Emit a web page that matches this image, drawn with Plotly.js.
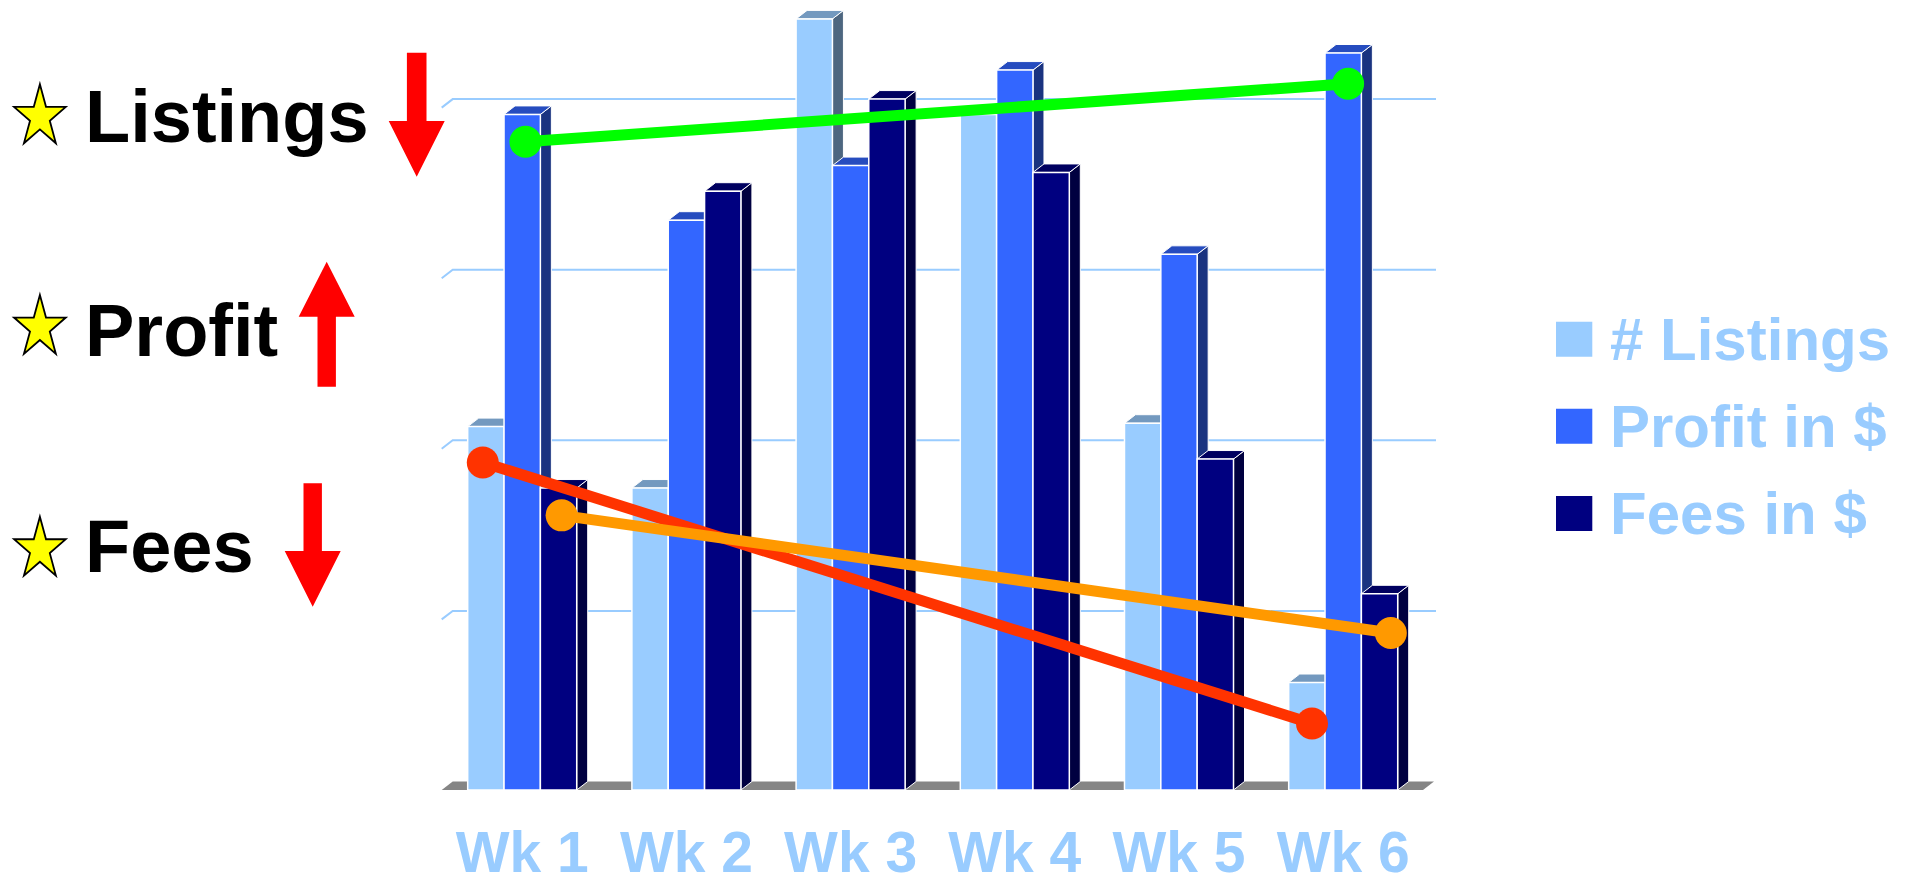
<!DOCTYPE html>
<html><head><meta charset="utf-8">
<script src="https://cdn.plot.ly/plotly-3.0.1.min.js"></script>
<style>html,body{margin:0;padding:0;background:#fff;overflow:hidden;} #chart{width:1913px;height:880px;}</style>
</head><body><div id="chart"></div>
<script>
// ---------------- data ----------------
const weeks = ["Wk 1", "Wk 2", "Wk 3", "Wk 4", "Wk 5", "Wk 6"];
const listings = [21.3, 17.7, 45.2, 39.6, 21.5, 6.3];
const profit   = [39.6, 33.4, 36.6, 42.2, 31.4, 43.2];
const fees     = [17.7, 35.1, 40.5, 36.2, 19.4, 11.5];
const seriesNames = ["# Listings", "Profit in $", "Fees in $"];
const gridValues = [10, 20, 30, 40];
// hand-drawn trend lines (x in week-index units, y in chart units)
const trendListingsX = [-0.24, 4.81], trendListingsY = [19.2, 3.9];
const trendProfitX   = [0.02, 5.03],  trendProfitY   = [38.0, 41.4];
const trendFeesX     = [0.24, 5.29],  trendFeesY     = [16.1, 9.2];
const kpiLabels = ["Listings", "Profit", "Fees"];
const kpiDirections = ["down", "up", "down"];

// ---------------- style / layout constants ----------------
const W = 1913, H = 880, MB = 90, PH = H - MB;
const PXU = 17.06;               // pixels per y unit
const XPX0 = 522.2, XPXU = 164.2; // pixel of x=0, pixels per x unit
const DY = 8.5 / PXU, DX = 11 / XPXU; // 3D depth offsets
const BARGAP = 0.336;
const frontCol = ["#99CCFF", "#3366FF", "#000080"];
const topCol   = ["#7399BF", "#264CBF", "#000060"];
const sideCol  = ["#4D6680", "#1A3380", "#000040"];
const FONT = "Liberation Sans, Arial, Helvetica, sans-serif";
const px2x = p => (p - XPX0) / XPXU;
const GX0 = px2x(441.7), GX1 = px2x(1436), FX1 = px2x(1423);
const paperX = p => p / W;
const paperY = p => (PH - p) / PH;

const series = [listings, profit, fees];
const idx = weeks.map((_, i) => i);
const gw = 1 - BARGAP, bw = gw / 3;

// ---------- 3D faces (side + top) on the back-wall axis ----------
const faceTraces = [];
idx.forEach(i => {
  series.forEach((vals, k) => {
    const v = vals[i];
    const xl = i - gw / 2 + k * bw, xr = xl + bw;
    faceTraces.push({
      type: 'scatter', mode: 'lines', xaxis: 'x', yaxis: 'y',
      x: [xr, xr + DX, xr + DX, xr, xr], y: [v - DY, v, 0, -DY, v - DY],
      fill: 'toself', fillcolor: sideCol[k], line: {color: '#FFFFFF', width: 1},
      hoverinfo: 'skip', showlegend: false
    });
    faceTraces.push({
      type: 'scatter', mode: 'lines', xaxis: 'x', yaxis: 'y',
      x: [xl, xr, xr + DX, xl + DX, xl], y: [v - DY, v - DY, v, v, v - DY],
      fill: 'toself', fillcolor: topCol[k], line: {color: '#FFFFFF', width: 1},
      hoverinfo: 'skip', showlegend: false
    });
  });
});

// ---------- front faces: real bars on the front axis ----------
const barTraces = series.map((vals, k) => ({
  type: 'bar', name: seriesNames[k], x: idx, y: vals, xaxis: 'x', yaxis: 'y2',
  marker: {color: frontCol[k], line: {color: '#FFFFFF', width: 1.5}},
  showlegend: false
}));

// ---------- trend lines ----------
const trend = (x, y, c, n) => ({
  type: 'scatter', mode: 'lines+markers', name: n, x: x, y: y, xaxis: 'x', yaxis: 'y2',
  line: {color: c, width: 11}, marker: {color: c, size: 32}, showlegend: false, cliponaxis: false
});
const trendTraces = [
  trend(trendProfitX, trendProfitY, '#00FF00', 'Profit trend'),
  trend(trendListingsX, trendListingsY, '#FF3300', 'Listings trend'),
  trend(trendFeesX, trendFeesY, '#FF9900', 'Fees trend')
];

// ---------- shapes ----------
const shapes = [];
// floor
shapes.push({type: 'path', xref: 'x', yref: 'y', layer: 'below',
  path: `M${GX0},${-DY} L${FX1},${-DY} L${FX1 + DX},0 L${GX0 + DX},0 Z`,
  fillcolor: '#858585', line: {width: 0}});
// back-wall gridlines with left-wall slant
gridValues.forEach(v => {
  shapes.push({type: 'path', xref: 'x', yref: 'y', layer: 'below',
    path: `M${GX0},${v - DY} L${GX0 + DX},${v} L${GX1},${v}`,
    line: {color: '#99CCFF', width: 2}});
});
// stars
function starPath(cx, cy, rx, ry) {
  let d = '';
  for (let j = 0; j < 10; j++) {
    const a = -Math.PI / 2 + j * Math.PI / 5, r = j % 2 === 0 ? 1 : 0.382;
    const X = paperX(cx + rx * r * Math.cos(a)), Y = paperY(cy + ry * r * Math.sin(a));
    d += (j === 0 ? 'M' : 'L') + X + ',' + Y + ' ';
  }
  return d + 'Z';
}
const kpiCenters = [116.3, 330.3, 546.7];
const starCenters = [116.9, 327.6, 549.3];
starCenters.forEach(cy => shapes.push({type: 'path', xref: 'paper', yref: 'paper',
  path: starPath(39.9, cy, 27.2, 32.6), fillcolor: '#FFFF00', line: {color: '#000000', width: 1.8}}));
// arrows
function arrowPath(tipX, tipY, headHalf, headLen, shaftHalf, totalLen, dir) {
  const hb = dir === 'down' ? tipY - headLen : tipY + headLen;
  const tail = dir === 'down' ? tipY - totalLen : tipY + totalLen;
  const P = [[tipX, tipY], [tipX + headHalf, hb], [tipX + shaftHalf, hb], [tipX + shaftHalf, tail],
             [tipX - shaftHalf, tail], [tipX - shaftHalf, hb], [tipX - headHalf, hb]];
  return P.map((p, j) => (j === 0 ? 'M' : 'L') + paperX(p[0]) + ',' + paperY(p[1])).join(' ') + ' Z';
}
const arrowSpecs = [
  {tipX: 416.7, tipY: 176.7, headHalf: 28, headLen: 55.7, shaftHalf: 9.8, len: 124},
  {tipX: 326.7, tipY: 261.7, headHalf: 28, headLen: 55, shaftHalf: 9.2, len: 125},
  {tipX: 312.7, tipY: 606.7, headHalf: 28, headLen: 55.7, shaftHalf: 9.2, len: 123.4}
];
arrowSpecs.forEach((a, j) => shapes.push({type: 'path', xref: 'paper', yref: 'paper',
  path: arrowPath(a.tipX, a.tipY, a.headHalf, a.headLen, a.shaftHalf, a.len, kpiDirections[j]),
  fillcolor: '#FF0000', line: {width: 0}}));
// legend squares
const legendRows = [339.3, 426.3, 513.5];
legendRows.forEach((cy, k) => shapes.push({type: 'rect', xref: 'paper', yref: 'paper',
  x0: paperX(1556), x1: paperX(1592.3), y0: paperY(cy - 17.5), y1: paperY(cy + 17.5),
  fillcolor: frontCol[k], line: {width: 0}}));

// ---------- annotations ----------
const annotations = [];
kpiLabels.forEach((t, j) => annotations.push({xref: 'paper', yref: 'paper', x: paperX(83), y: paperY(kpiCenters[j]),
  xanchor: 'left', yanchor: 'middle', showarrow: false, text: t,
  font: {family: FONT, size: 74, color: '#000000', weight: 'bold'}}));
seriesNames.forEach((t, k) => annotations.push({xref: 'paper', yref: 'paper', x: paperX(1607.5), y: paperY(legendRows[k]),
  xanchor: 'left', yanchor: 'middle', showarrow: false, text: t,
  font: {family: FONT, size: 60, color: '#99CCFF', weight: 'bold'}}));

const layout = {
  width: W, height: H, margin: {l: 0, r: 0, t: 0, b: MB, pad: 0},
  paper_bgcolor: '#FFFFFF', plot_bgcolor: '#FFFFFF',
  barmode: 'group', bargap: BARGAP, bargroupgap: 0, showlegend: false,
  xaxis: {domain: [440 / W, 1440 / W], range: [px2x(440), px2x(1440)], tickmode: 'array',
    tickvals: idx, ticktext: weeks, showgrid: false, zeroline: false, showline: false, ticks: '',
    ticklabelstandoff: 24, tickfont: {family: FONT, size: 57, color: '#99CCFF', weight: 'bold'}, fixedrange: true},
  yaxis: {domain: [0, 1], range: [-DY, -DY + PH / PXU], visible: false, fixedrange: true},
  yaxis2: {domain: [0, 1], overlaying: 'y', range: [0, PH / PXU], visible: false, fixedrange: true},
  shapes: shapes, annotations: annotations
};

Plotly.newPlot('chart', faceTraces.concat(barTraces, trendTraces), layout, {displayModeBar: false, staticPlot: true});
</script>
</body></html>
